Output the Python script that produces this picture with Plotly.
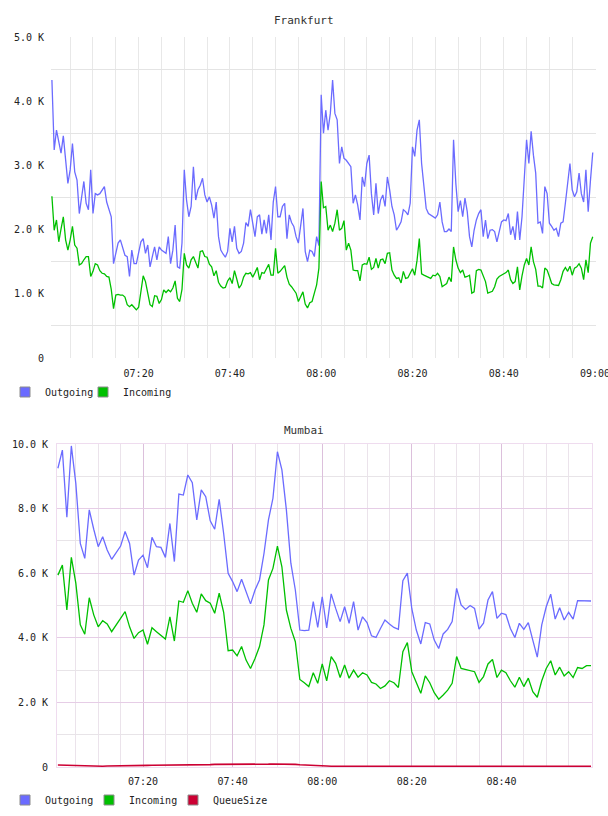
import numpy as np
import pandas as pd
import plotly.graph_objects as go

# ---------------- data (values in thousands) ----------------
fra_out = [
    4.33, 3.24, 3.55, 3.34, 3.19, 3.46, 3.06, 2.72, 2.93, 3.34,
    2.90, 2.77, 2.25, 2.51, 2.75, 2.41, 2.31, 2.93, 2.25, 2.56,
    2.54, 2.56, 2.62, 2.67, 2.43, 2.31, 2.20, 1.47, 1.63, 1.79,
    1.84, 1.71, 1.60, 1.58, 1.27, 1.68, 1.47, 1.47, 1.63, 1.81,
    1.86, 1.63, 1.76, 1.42, 1.58, 1.73, 1.53, 1.73, 1.68, 1.66,
    1.63, 1.89, 1.47, 1.68, 2.07, 1.42, 1.40, 1.79, 2.93, 2.46,
    2.20, 2.36, 2.98, 2.46, 2.62, 2.69, 2.80, 2.54, 2.43, 2.51,
    2.38, 2.18, 2.43, 1.89, 1.68, 1.62, 1.57, 1.66, 2.02, 1.81,
    2.05, 1.71, 1.63,
    1.66, 1.79, 2.11, 2.05, 2.31, 2.12, 1.89,
    2.20, 2.23, 1.93, 2.15, 1.94, 2.23, 1.84, 2.43, 2.67, 2.20,
    2.20, 2.36, 2.41, 1.86, 2.23, 2.11, 2.05, 1.89, 1.79, 2.05,
    2.33, 1.66, 1.50, 1.68, 1.66, 1.58, 1.89, 1.75, 4.10, 3.50,
    3.86, 3.55, 3.81, 4.33, 3.81, 3.71, 3.03, 3.29, 3.11, 3.08,
    3.03, 2.98, 2.41, 2.54, 2.38, 2.15, 2.82, 2.67, 3.03, 3.16,
    2.56, 2.23, 2.72, 2.25, 2.46, 2.54, 2.36, 2.82, 2.62, 2.36,
    2.23, 1.99, 2.05, 2.12, 2.31, 2.28, 2.23, 2.41, 3.29, 3.14,
    3.55, 3.71, 3.03, 2.72, 2.33, 2.25, 2.23, 2.20, 2.18, 2.23,
    2.43,
    2.12, 1.97, 1.97, 2.01, 1.97, 3.40, 2.72, 2.28, 2.45,
    2.20, 2.49, 2.28, 1.89, 1.73, 1.99, 2.15, 2.25, 2.31, 1.89,
    2.15, 1.86, 1.99, 2.00, 1.97, 1.81, 1.99, 2.12, 2.15, 2.14,
    2.25, 1.92, 2.05, 1.84, 2.28, 1.84, 2.20, 2.72, 3.40, 3.03,
    3.53, 3.16, 2.88, 2.10, 2.12, 1.94, 2.67, 2.56, 2.10, 2.05,
    1.99, 2.02, 1.89, 2.10, 2.12, 2.41, 2.77, 3.03, 2.62, 2.51,
    2.59, 2.88, 2.56, 2.43, 2.93, 2.28, 2.77, 3.20,
]
fra_in = [
    2.52, 1.99, 2.15, 1.81, 2.01, 2.20, 1.84, 1.68, 1.84, 2.05,
    1.76, 1.71, 1.45, 1.47, 1.53, 1.58, 1.58, 1.27, 1.35, 1.47,
    1.45, 1.36, 1.32, 1.31, 1.27, 1.26, 1.07, 0.77, 0.98, 0.99,
    0.98, 0.98, 0.95, 0.83, 0.80, 0.83, 0.79, 0.75, 0.79, 1.01,
    1.28, 1.19, 1.01, 0.83, 0.80, 0.97, 0.96, 0.85, 0.91, 1.06,
    1.02, 1.06, 1.03, 1.09, 1.20, 0.93, 0.88, 1.07, 1.63, 1.45,
    1.40, 1.53, 1.58, 1.50, 1.40, 1.66, 1.67, 1.58, 1.57, 1.46,
    1.42, 1.28, 1.36, 1.18, 1.12, 1.09, 1.10, 1.20, 1.25, 1.16,
    1.36, 1.23, 1.09,
    1.14, 1.26, 1.32, 1.31, 1.33, 1.26, 1.33,
    1.41, 1.22, 1.33, 1.32, 1.38, 1.46, 1.29, 1.29, 1.71, 1.32,
    1.35, 1.39, 1.44, 1.26, 1.15, 1.11, 1.06, 1.01, 0.88, 0.96,
    1.03, 0.84, 0.78, 0.86, 0.88, 1.01, 1.14, 1.40, 2.75, 2.34,
    2.36, 1.99, 2.07, 1.97, 2.10, 2.31, 1.99, 2.02, 2.14, 1.68,
    1.79, 1.68, 1.37, 1.36, 1.36, 1.20, 1.45, 1.47, 1.46, 1.57,
    1.38, 1.41, 1.55, 1.40, 1.53, 1.54, 1.47, 1.63, 1.64, 1.37,
    1.29, 1.24, 1.25, 1.17, 1.35, 1.24, 1.25, 1.32, 1.39, 1.29,
    1.52, 1.86, 1.31, 1.29, 1.27, 1.26, 1.24, 1.29, 1.28, 1.32,
    1.27,
    1.11, 1.13, 1.16, 1.26, 1.19, 1.73, 1.53, 1.40, 1.33,
    1.37, 1.26, 1.27, 1.29, 1.01, 1.03, 1.36, 1.38, 1.37, 1.27,
    1.19, 1.01, 1.02, 1.04, 1.11, 1.23, 1.27, 1.29, 1.32, 1.33,
    1.37, 1.22, 1.16, 1.19, 1.42, 1.06, 1.28, 1.45, 1.55, 1.45,
    1.73, 1.50, 1.38, 1.12, 1.12, 1.09, 1.40, 1.37, 1.27, 1.16,
    1.14, 1.14, 1.13, 1.22, 1.35, 1.41, 1.35, 1.43, 1.29, 1.40,
    1.42, 1.47, 1.40, 1.22, 1.53, 1.33, 1.79, 1.89,
]
mum_out = [
    9.25, 9.81, 7.73, 9.94, 8.78, 6.92, 6.46, 7.96, 7.36, 6.82,
    7.13, 6.72, 6.43, 6.64, 6.84, 7.29, 6.92, 5.94, 6.41, 6.56,
    6.17, 7.11, 6.82, 6.80, 6.49, 7.54, 6.36, 8.45, 8.42, 9.04,
    8.80, 7.65, 8.58, 8.37, 7.62, 7.36, 8.29, 7.23, 6.00, 5.74,
    5.43, 5.81, 5.43, 5.05, 5.48, 5.79, 6.61, 7.65, 8.32, 9.76,
    9.20, 7.96, 6.31, 5.48, 4.24, 4.22, 4.24, 5.12, 4.32, 5.27,
    4.31, 5.36, 4.91, 4.50, 4.96, 4.45, 5.12, 4.24, 4.65, 4.47,
    4.06, 4.01, 4.29, 4.55, 4.43, 4.32, 4.26, 5.77, 6.00, 4.90,
    4.24, 3.81, 4.47, 4.43, 3.93, 3.67, 4.12, 4.26, 4.50, 5.53,
    5.02, 4.88, 5.00, 4.91, 4.27, 4.45, 5.17, 5.43, 4.60, 4.76,
    4.72, 4.29, 4.01, 4.45, 4.26, 4.47, 3.93, 3.40, 4.40, 4.96,
    5.35, 4.58, 4.93, 4.55, 4.79, 4.58, 5.15, 5.15, 5.14, 5.14,
]
mum_in = [
    5.94, 6.25, 4.86, 6.49, 5.69, 4.40, 4.11, 5.24, 4.71, 4.34,
    4.53, 4.43, 4.19, 4.40, 4.60, 4.81, 4.34, 3.98, 4.16, 4.24,
    3.80, 4.31, 4.19, 4.07, 3.96, 4.65, 3.90, 5.14, 5.10, 5.46,
    5.07, 4.79, 5.36, 5.15, 5.07, 4.76, 5.38, 4.79, 3.60, 3.62,
    3.44, 3.73, 3.31, 3.05, 3.36, 3.73, 4.40, 5.79, 6.15, 6.84,
    6.20, 4.86, 4.29, 3.88, 2.71, 2.61, 2.49, 2.92, 2.59, 3.19,
    2.67, 3.42, 3.21, 2.77, 3.16, 2.75, 3.00, 2.78, 2.92, 2.85,
    2.62, 2.57, 2.43, 2.51, 2.67, 2.61, 2.46, 3.57, 3.85, 2.95,
    2.64, 2.28, 2.82, 2.61, 2.30, 2.10, 2.23, 2.38, 2.59, 3.42,
    3.05, 3.02, 3.00, 2.95, 2.62, 2.80, 3.19, 3.33, 2.77, 3.00,
    2.92, 2.67, 2.47, 2.78, 2.49, 2.75, 2.33, 2.16, 2.67, 3.05,
    3.29, 2.85, 3.09, 2.82, 2.95, 2.77, 3.08, 3.05, 3.14, 3.14,
]
mum_queue = [
    0.060, 0.055, 0.050, 0.045, 0.040, 0.035, 0.030, 0.030, 0.025, 0.025,
    0.025, 0.030, 0.030, 0.035, 0.035, 0.040, 0.040, 0.045, 0.045, 0.050,
    0.050, 0.055, 0.055, 0.060, 0.060, 0.060, 0.065, 0.065, 0.060, 0.060,
    0.065, 0.070, 0.070, 0.075, 0.075, 0.080, 0.080, 0.075, 0.075, 0.070,
    0.070, 0.075, 0.080, 0.080, 0.085, 0.085, 0.090, 0.090, 0.095, 0.095,
    0.090, 0.090, 0.085, 0.080, 0.070, 0.060, 0.050, 0.040, 0.035, 0.030,
    0.030, 0.025, 0.025, 0.025, 0.030, 0.030, 0.035, 0.040, 0.045, 0.045,
    0.040, 0.035, 0.030, 0.030, 0.025, 0.025, 0.025, 0.030, 0.030, 0.035,
    0.035, 0.030, 0.025, 0.020, 0.020, 0.020, 0.025, 0.025, 0.020, 0.020,
    0.020, 0.020, 0.020, 0.025, 0.025, 0.030, 0.030, 0.025, 0.020, 0.020,
    0.020, 0.020, 0.020, 0.025, 0.025, 0.030, 0.030, 0.025, 0.025, 0.020,
    0.020, 0.020, 0.020, 0.020, 0.020, 0.020, 0.020, 0.020, 0.020, 0.020,
]

fra_time = pd.date_range("2024-01-01 07:01:00", periods=len(fra_out), freq="30s")
mum_time = pd.date_range("2024-01-01 07:01:00", periods=len(mum_out), freq="1min")

fra_x_labels = ["07:20", "07:40", "08:00", "08:20", "08:40", "09:00"]
mum_x_labels = ["07:20", "07:40", "08:00", "08:20", "08:40"]
fra_y_vals = [0, 1, 2, 3, 4, 5]
fra_y_labels = ["0", "1.0 K", "2.0 K", "3.0 K", "4.0 K", "5.0 K"]
mum_y_vals = [0, 2, 4, 6, 8, 10]
mum_y_labels = ["0", "2.0 K", "4.0 K", "6.0 K", "8.0 K", "10.0 K"]

# ---------------- style ----------------
W, H = 608, 816
BLUE = "#6b6bff"
GREEN = "#00c000"
RED = "#cc0033"
FONT = "DejaVu Sans Mono"
TXT = "#222222"


def ts(label):
    return pd.Timestamp("2024-01-01 " + label)


def px_x(p):
    return p / W


def px_y(p):
    return 1 - p / H


fig = go.Figure()

# Frankfurt
fig.add_trace(go.Scatter(x=fra_time, y=fra_out, mode="lines", name="Outgoing",
                         line=dict(color=BLUE, width=1.3), xaxis="x", yaxis="y",
                         showlegend=False))
fig.add_trace(go.Scatter(x=fra_time, y=fra_in, mode="lines", name="Incoming",
                         line=dict(color=GREEN, width=1.3), xaxis="x", yaxis="y",
                         showlegend=False))
# Mumbai
fig.add_trace(go.Scatter(x=mum_time, y=mum_out, mode="lines", name="Outgoing",
                         line=dict(color=BLUE, width=1.3), xaxis="x2", yaxis="y2",
                         showlegend=False))
fig.add_trace(go.Scatter(x=mum_time, y=mum_in, mode="lines", name="Incoming",
                         line=dict(color=GREEN, width=1.3), xaxis="x2", yaxis="y2",
                         showlegend=False))
fig.add_trace(go.Scatter(x=mum_time, y=mum_queue, mode="lines", name="QueueSize",
                         line=dict(color=RED, width=1.6), xaxis="x2", yaxis="y2",
                         showlegend=False, cliponaxis=False))

# legend entries (square swatches), one legend box per entry for exact placement
legend_items = [
    ("Outgoing", BLUE, "legend", "x", "y", 5, 392),
    ("Incoming", GREEN, "legend2", "x", "y", 83, 392),
    ("Outgoing", BLUE, "legend3", "x2", "y2", 5, 800),
    ("Incoming", GREEN, "legend4", "x2", "y2", 89, 800),
    ("QueueSize", RED, "legend5", "x2", "y2", 173, 800),
]

legend_layout = {}
for name, color, lg, xa, ya, lx, ly in legend_items:
    fig.add_trace(go.Scatter(x=[None], y=[None], mode="markers", name=name,
                             marker=dict(symbol="square", size=10, color=color,
                                         line=dict(color="#8c8c8c", width=1)),
                             xaxis=xa, yaxis=ya, legend=lg, showlegend=True))
    legend_layout[lg] = dict(orientation="h", x=px_x(lx), y=px_y(ly),
                             xanchor="left", yanchor="middle",
                             font=dict(family=FONT, size=10, color=TXT),
                             bgcolor="rgba(0,0,0,0)",
                             itemclick=False, itemdoubleclick=False)

tickfont = dict(family=FONT, size=10, color=TXT)
five_min = 5 * 60 * 1000

fig.update_layout(
    width=W, height=H,
    margin=dict(l=0, r=0, t=0, b=0, autoexpand=False),
    paper_bgcolor="white", plot_bgcolor="white",
    font=dict(family=FONT, size=10, color=TXT),
    xaxis=dict(
        domain=[px_x(51), px_x(595.8)], anchor="y", type="date",
        range=[ts("07:00:48"), ts("09:00:10")],
        tickmode="array", tickvals=[ts(t) for t in fra_x_labels], ticktext=fra_x_labels,
        showgrid=True, gridcolor="#e8e8e8", gridwidth=1, zeroline=False, showline=False,
        ticks="", tickfont=tickfont, ticklabelstandoff=8, ticklabeloverflow="allow",
        minor=dict(tickmode="linear", tick0=ts("07:00"), dtick=five_min,
                   showgrid=True, gridcolor="#e8e8e8", gridwidth=1, ticks=""),
    ),
    yaxis=dict(
        domain=[px_y(358), px_y(37)], anchor="x", range=[0, 5],
        tickmode="array", tickvals=fra_y_vals, ticktext=fra_y_labels,
        showgrid=False, zeroline=False, showline=False, ticks="",
        tickfont=tickfont, ticklabelstandoff=6,
        minor=dict(tickmode="linear", tick0=0.5, dtick=1, showgrid=True,
                   gridcolor="#e4e4e4", gridwidth=1, ticks=""),
    ),
    xaxis2=dict(
        domain=[px_x(57), px_x(592)], anchor="y2", type="date",
        range=[ts("07:00:48"), ts("09:00:13")],
        tickmode="array", tickvals=[ts(t) for t in mum_x_labels], ticktext=mum_x_labels,
        showgrid=True, gridcolor="#dcc0dc", gridwidth=1, zeroline=False,
        showline=True, mirror=True, linecolor="#efdcef", linewidth=1,
        ticks="", tickfont=tickfont, ticklabelstandoff=5,
        minor=dict(tickmode="linear", tick0=ts("07:00"), dtick=five_min,
                   showgrid=True, gridcolor="#ebe3eb", gridwidth=1, ticks=""),
    ),
    yaxis2=dict(
        domain=[px_y(767), px_y(444)], anchor="x2", range=[0, 10],
        tickmode="array", tickvals=mum_y_vals, ticktext=mum_y_labels,
        showgrid=True, gridcolor="#e6cde6", gridwidth=1, zeroline=False,
        showline=True, mirror=True, linecolor="#efdcef", linewidth=1,
        ticks="", tickfont=tickfont, ticklabelstandoff=6,
        minor=dict(tickmode="linear", tick0=1, dtick=2, showgrid=True,
                   gridcolor="#e8e4e8", gridwidth=1, ticks=""),
    ),
    annotations=[
        dict(text="Frankfurt", x=0.5, y=px_y(20), xref="paper", yref="paper",
             xanchor="center", yanchor="middle", showarrow=False,
             font=dict(family=FONT, size=11, color="#333333")),
        dict(text="Mumbai", x=0.5, y=px_y(430), xref="paper", yref="paper",
             xanchor="center", yanchor="middle", showarrow=False,
             font=dict(family=FONT, size=11, color="#333333")),
    ],
    **legend_layout,
)

fig.write_html("out.html")
